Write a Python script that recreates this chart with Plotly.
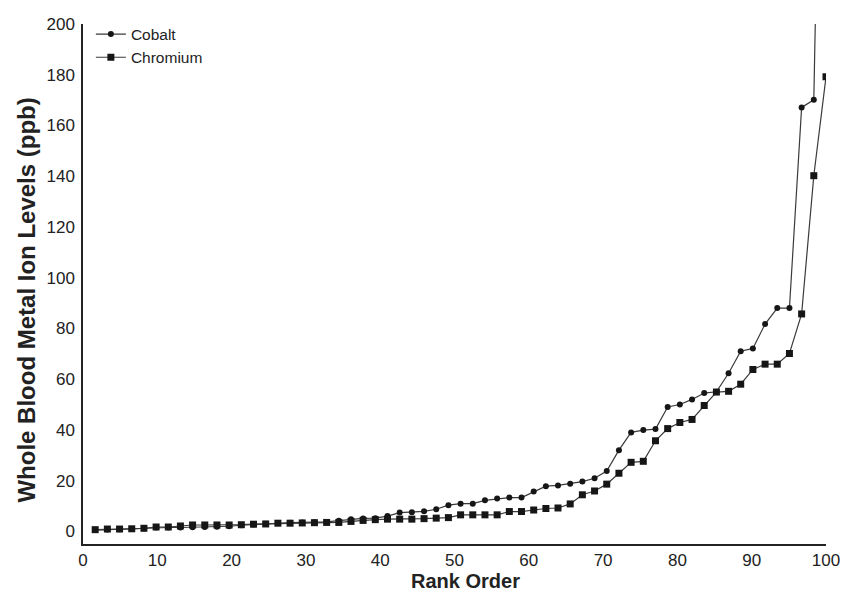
import plotly.graph_objects as go

rank = [1.64, 3.28, 4.92, 6.56, 8.20, 9.84, 11.48, 13.11, 14.75, 16.39,
        18.03, 19.67, 21.31, 22.95, 24.59, 26.23, 27.87, 29.51, 31.15, 32.79,
        34.43, 36.07, 37.70, 39.34, 40.98, 42.62, 44.26, 45.90, 47.54, 49.18,
        50.82, 52.46, 54.10, 55.74, 57.38, 59.02, 60.66, 62.30, 63.93, 65.57,
        67.21, 68.85, 70.49, 72.13, 73.77, 75.41, 77.05, 78.69, 80.33, 81.97,
        83.61, 85.25, 86.89, 88.52, 90.16, 91.80, 93.44, 95.08, 96.72, 98.36,
        100.0]

cobalt = [0.5, 0.7, 0.8, 0.9, 1.1, 1.5, 1.5, 1.5, 1.6, 1.7,
          1.8, 2.0, 2.4, 2.7, 3.0, 3.3, 3.4, 3.5, 3.6, 3.7,
          4.2, 4.8, 5.1, 5.2, 6.0, 7.4, 7.5, 7.9, 8.7, 10.3,
          10.9, 10.9, 12.2, 12.9, 13.3, 13.3, 15.7, 17.8, 18.1, 18.8,
          19.6, 20.9, 23.8, 32.0, 39.0, 39.9, 40.3, 49.0, 50.0, 52.0,
          54.5, 55.0, 62.3, 71.0, 72.1, 81.7, 88.0, 88.0, 167.1, 170.1,
          420.0]

chromium = [0.65, 0.9, 0.9, 1.0, 1.2, 1.7, 1.7, 2.1, 2.5, 2.5,
            2.5, 2.5, 2.6, 2.8, 2.9, 3.2, 3.2, 3.3, 3.4, 3.5,
            3.5, 3.9, 4.3, 4.6, 4.8, 4.8, 4.8, 5.0, 5.2, 5.4,
            6.5, 6.5, 6.5, 6.5, 7.8, 7.8, 8.4, 9.0, 9.2, 10.8,
            14.4, 15.9, 18.6, 22.9, 27.2, 27.6, 35.7, 40.5, 42.9, 44.1,
            49.6, 54.9, 55.2, 58.0, 63.8, 65.9, 65.9, 70.1, 85.7, 140.2,
            179.2]

x_ticks = [0, 10, 20, 30, 40, 50, 60, 70, 80, 90, 100]
y_ticks = [0, 20, 40, 60, 80, 100, 120, 140, 160, 180, 200]

x_title = "Rank Order"
y_title = "Whole Blood Metal Ion Levels (ppb)"

FONT = "Liberation Sans, Arial, Helvetica, sans-serif"
LINE = "#3a3a3a"
MARK = "#161616"
TXT = "#222222"

fig = go.Figure()
fig.add_trace(go.Scatter(
    x=rank, y=cobalt, name="Cobalt", mode="lines+markers",
    line=dict(color=LINE, width=1.2),
    marker=dict(symbol="circle", size=6, color=MARK),
))
fig.add_trace(go.Scatter(
    x=rank, y=chromium, name="Chromium", mode="lines+markers",
    line=dict(color=LINE, width=1.2),
    marker=dict(symbol="square", size=7, color=MARK),
))

# the page body adds an 8px margin, so the figure is sized 8px smaller
fig.update_layout(
    width=848, height=586,
    margin=dict(l=75, r=30, t=10, b=50),
    paper_bgcolor="white", plot_bgcolor="white",
    font=dict(family=FONT, color=TXT, size=17),
    showlegend=True,
    legend=dict(
        x=0.0106, y=1.0125, xanchor="left", yanchor="top",
        bgcolor="rgba(0,0,0,0)", font=dict(size=15.5, color=TXT),
        itemwidth=30, tracegroupgap=0,
    ),
    xaxis=dict(
        range=[0, 100], tickvals=x_ticks, ticktext=[str(v) for v in x_ticks],
        showgrid=False, zeroline=False, showline=True, linecolor=TXT,
        linewidth=1.5, ticks="", ticklabelstandoff=0, automargin=False,
        tickfont=dict(size=17),
    ),
    yaxis=dict(
        range=[-5, 200], tickvals=y_ticks, ticktext=[str(v) for v in y_ticks],
        showgrid=False, zeroline=False, showline=True, linecolor=TXT,
        linewidth=1.5, ticks="", ticklabelstandoff=3, automargin=False,
        tickfont=dict(size=17),
    ),
    annotations=[
        dict(text=f"<b>{x_title}</b>", xref="paper", yref="paper",
             x=0.515, y=-0.0703, xanchor="center", yanchor="middle",
             showarrow=False, font=dict(size=20, color=TXT)),
        dict(text=f"<b>{y_title}</b>", xref="paper", yref="paper",
             x=-0.0754, y=0.47, xanchor="center", yanchor="middle",
             textangle=-90, showarrow=False, font=dict(size=24, color=TXT)),
    ],
)

fig.write_html("out.html")
